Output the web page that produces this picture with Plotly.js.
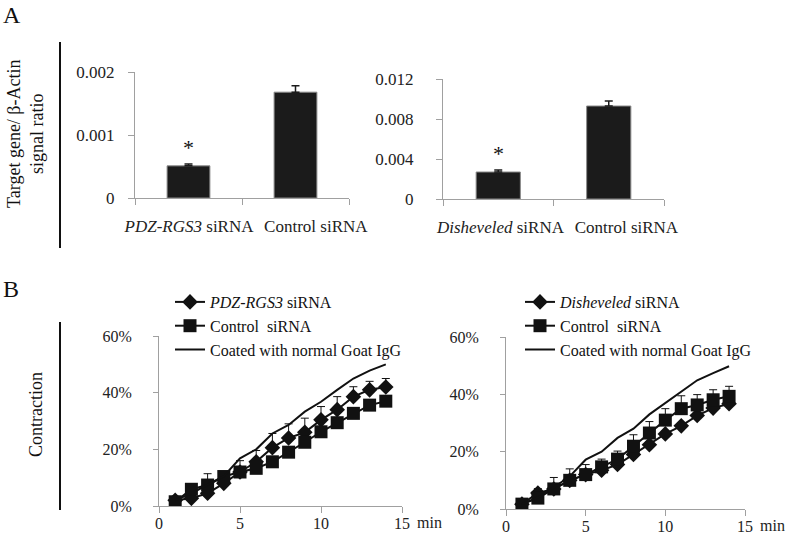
<!DOCTYPE html>
<html>
<head>
<meta charset="utf-8">
<script src="https://cdn.plot.ly/plotly-3.0.1.min.js"></script>
<style>
  html, body { margin: 0; padding: 0; background: #fff; }
  #graph { width: 787px; height: 542px; }
</style>
</head>
<body>
<div id="graph"></div>
<script>
// Panel A: qPCR ratios
const catsA1 = ['<i>PDZ-RGS3</i> siRNA', 'Control siRNA']
const valsA1 = [0.00051, 0.00168]
const errA1 = [0.00003, 0.0001]

const catsA2 = ['<i>Disheveled</i> siRNA', 'Control siRNA']
const valsA2 = [0.0027, 0.0093]
const errA2 = [0.0002, 0.0005]

// Panel B: contraction (%) vs minutes
const minutes = [1, 2, 3, 4, 5, 6, 7, 8, 9, 10, 11, 12, 13, 14]

const pdzRgs3 = [2, 2.7, 4.5, 8, 12, 15.6, 20.6, 24, 26, 30.4, 34, 38.6, 41, 42]
const pdzRgs3Err = [1, 1.5, 2, 4, 4, 4, 5, 5, 5, 4.7, 4.6, 3.5, 3, 3]
const ctrlLeft = [1.5, 5.9, 7.4, 10.4, 12, 13.3, 15.6, 19, 22.5, 26.2, 29.4, 32.7, 35.6, 37]
const ctrlLeftErr = [0.5, 1.5, 4, 1.5, 1.5, 1.5, 1.5, 1.5, 1.5, 1.5, 1.5, 1.5, 1.5, 1.5]
const iggLeft = [2, 4.5, 7.5, 10.5, 16.8, 20, 25.6, 28.6, 33.3, 36.8, 41, 45, 47.8, 50]

const dishev = [1.7, 5.6, 7, 10, 12, 13.5, 15.5, 19, 22.4, 26.2, 29, 32.6, 35.2, 36.7]
const dishevErr = [0.5, 1.5, 1, 1, 1, 1, 1, 1, 1, 1, 1, 1, 1, 1]
const ctrlRight = [1.7, 3.8, 7, 10, 12, 14.7, 17.4, 21.9, 26.5, 31, 35, 36.3, 38.1, 39.3]
const ctrlRightErr = [0.5, 2, 4, 4, 3.5, 2.7, 2.8, 4, 4, 4, 4.5, 3.6, 3.5, 3.5]
const iggRight = [1.7, 4, 7.5, 11.4, 17.2, 20, 24.8, 28, 33, 37, 40.7, 44.9, 47.4, 49.8]

const W = 787, H = 542
const px = v => v / W
const py = v => 1 - v / H
const zeros = n => new Array(n).fill(0)
const idx = arr => arr.map((_, i) => i)

const serif = 'Liberation Serif'
const axisGrey = '#a0a0a0'

// bars sit at slot index 0, 1; the axis is numeric so the labels can be nudged
function barTrace(cats, vals, errs, xa, ya) {
    return {
        type: 'bar', x: idx(cats), y: vals, xaxis: xa, yaxis: ya, width: 0.4,
        marker: { color: '#1b1b1b', line: { color: '#8a8a8a', width: 1 } },
        error_y: { type: 'data', symmetric: false, array: errs, arrayminus: zeros(errs.length),
                   color: '#1b1b1b', thickness: 1.5, width: 4 },
        showlegend: false, hoverinfo: 'none'
    }
}

function lineTrace(name, ys, errs, symbol, size, xa, ya, legend) {
    const t = {
        type: 'scatter', mode: symbol ? 'lines+markers' : 'lines',
        name: name, x: minutes, y: ys, xaxis: xa, yaxis: ya, legend: legend,
        line: { color: '#111', width: 2 },
        hoverinfo: 'none'
    }
    if (symbol) {
        t.marker = { symbol: symbol, size: size, color: '#111' }
        t.error_y = { type: 'data', symmetric: false, array: errs, arrayminus: zeros(errs.length),
                      color: '#111', thickness: 1, width: 4 }
    }
    return t
}

const data = [
    barTrace(catsA1, valsA1, errA1, 'x', 'y'),
    barTrace(catsA2, valsA2, errA2, 'x2', 'y2'),
    lineTrace('<i>PDZ-RGS3</i> siRNA', pdzRgs3, pdzRgs3Err, 'diamond', 12, 'x3', 'y3', 'legend'),
    lineTrace('Control  siRNA', ctrlLeft, ctrlLeftErr, 'square', 13, 'x3', 'y3', 'legend'),
    lineTrace('Coated with normal Goat IgG', iggLeft, null, null, 0, 'x3', 'y3', 'legend'),
    lineTrace('<i>Disheveled</i> siRNA', dishev, dishevErr, 'diamond', 12, 'x4', 'y4', 'legend2'),
    lineTrace('Control  siRNA', ctrlRight, ctrlRightErr, 'square', 13, 'x4', 'y4', 'legend2'),
    lineTrace('Coated with normal Goat IgG', iggRight, null, null, 0, 'x4', 'y4', 'legend2')
]

const tickFont = { family: serif, size: 17, color: '#222' }
const tickFontB = { family: serif, size: 16, color: '#222' }

const catAxis = (d, anchor, cats, labelPos) => ({
    domain: d, anchor: anchor, range: [-0.5, cats.length - 0.5],
    tickmode: 'array', tickvals: labelPos, ticktext: cats, ticks: '',
    minor: { tickmode: 'array', tickvals: [-0.5, 0.5, 1.5], ticks: 'outside', ticklen: 6,
             tickcolor: axisGrey, showgrid: false },
    showline: true, linecolor: axisGrey, linewidth: 1, zeroline: false,
    tickfont: tickFont, ticklabelstandoff: 13, showgrid: false, fixedrange: true
})
const valAxis = (d, anchor, range, dtick, standoff) => ({
    domain: d, anchor: anchor, range: range, dtick: dtick,
    showline: true, linecolor: axisGrey, linewidth: 1,
    ticks: 'outside', ticklen: 6, tickcolor: axisGrey,
    tickfont: tickFont, ticklabelstandoff: standoff, showgrid: false, zeroline: false
})
const timeAxis = (d, anchor) => ({
    domain: d, anchor: anchor, range: [0, 15], dtick: 5,
    showline: true, linecolor: axisGrey, linewidth: 1,
    ticks: 'outside', ticklen: 6, tickcolor: axisGrey,
    tickfont: tickFontB, ticklabelstandoff: -3, showgrid: false, zeroline: false
})
const pctAxis = (d, anchor) => ({
    domain: d, anchor: anchor, range: [0, 60], dtick: 20, ticksuffix: '%',
    showline: true, linecolor: axisGrey, linewidth: 1,
    ticks: 'outside', ticklen: 5, tickcolor: axisGrey,
    tickfont: tickFontB, ticklabelstandoff: 18, showgrid: false, zeroline: false
})

const legendStyle = (x, y) => ({
    x: x, y: y, xanchor: 'left', yanchor: 'top',
    bgcolor: 'rgba(0,0,0,0)', borderwidth: 0,
    font: { family: serif, size: 16, color: '#111' },
    tracegroupgap: 0, itemwidth: 30
})

const textAnn = (text, x, y, size, extra) => Object.assign({
    text: text, xref: 'paper', yref: 'paper', x: px(x), y: py(y),
    xanchor: 'center', yanchor: 'middle',
    showarrow: false, font: { family: serif, size: size, color: '#111' }
}, extra || {})

const minAnn = (xa, ya) => ({
    text: 'min', xref: xa + ' domain', yref: ya + ' domain', x: 1, y: 0,
    xanchor: 'left', yanchor: 'middle', xshift: 13, yshift: -16,
    showarrow: false, font: tickFontB
})

const starAnn = (xa, ya, v, e) => ({
    text: '*', xref: xa, yref: ya, x: 0, y: v + e, yanchor: 'bottom',
    yshift: 2, showarrow: false, font: { family: serif, size: 22, color: '#111' }
})

const layout = {
    width: W, height: H,
    margin: { l: 0, r: 0, t: 0, b: 0 },
    paper_bgcolor: '#fff', plot_bgcolor: 'rgba(0,0,0,0)',
    showlegend: true,
    xaxis: catAxis([px(135), px(349)], 'y', catsA1, [0.005, 1.19]),
    yaxis: valAxis([py(198), py(72)], 'x', [0, 0.002], 0.001, 10),
    xaxis2: catAxis([px(443), px(664)], 'y2', catsA2, [0.02, 1.16]),
    yaxis2: valAxis([py(199), py(79)], 'x2', [0, 0.012], 0.004, 19),
    xaxis3: timeAxis([px(159), px(402)], 'y3'),
    yaxis3: pctAxis([py(506), py(336)], 'x3'),
    xaxis4: timeAxis([px(506), px(745)], 'y4'),
    yaxis4: pctAxis([py(509), py(337)], 'x4'),
    legend: legendStyle(px(170), py(285)),
    legend2: legendStyle(px(520), py(285)),
    shapes: [
        { type: 'line', xref: 'paper', yref: 'paper', x0: px(60), x1: px(60), y0: py(42), y1: py(248),
          line: { color: '#111', width: 2 } },
        { type: 'line', xref: 'paper', yref: 'paper', x0: px(60), x1: px(60), y0: py(322), y1: py(510),
          line: { color: '#111', width: 2 } }
    ],
    annotations: [
        textAnn('A', 12, 15, 24),
        textAnn('B', 11, 289, 24),
        textAnn('Target gene/ β-Actin<br>signal ratio', 25, 134, 18, { textangle: -90 }),
        textAnn('Contraction', 36, 415, 18, { textangle: -90 }),
        starAnn('x', 'y', valsA1[0], errA1[0]),
        starAnn('x2', 'y2', valsA2[0], errA2[0]),
        minAnn('x3', 'y3'),
        minAnn('x4', 'y4')
    ]
}

Plotly.newPlot('graph', data, layout, { staticPlot: true, displayModeBar: false })
</script>
</body>
</html>
